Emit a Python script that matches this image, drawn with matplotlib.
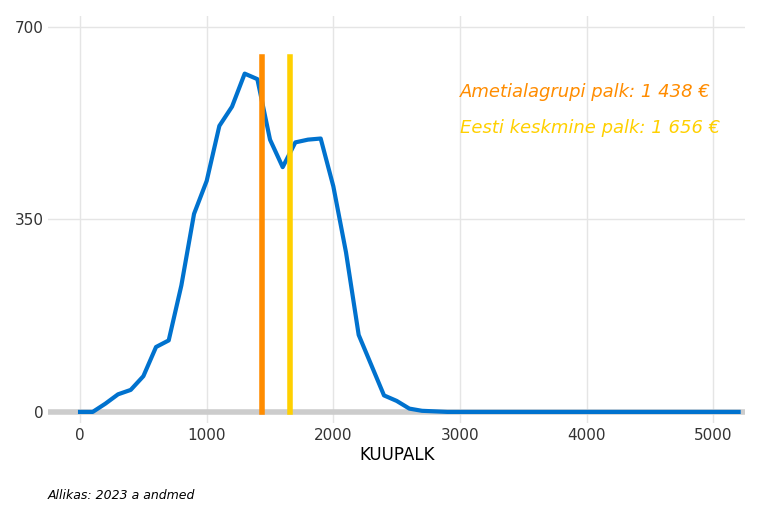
import matplotlib
matplotlib.use("Agg")
import matplotlib.pyplot as plt

x = list(range(0, 5300, 100))
y_head = [0, 0, 15, 32, 40, 65, 118, 130, 230, 360, 420, 520, 555, 615, 605, 495, 445, 490, 495, 497,
          410, 290, 140, 85, 30, 20, 6, 2, 1]
y = y_head + [0] * (len(x) - len(y_head))
group_pay = 1438
mean_pay = 1656
labels = ["Ametialagrupi palk: 1 438 €", "Eesti keskmine palk: 1 656 €"]

fig = plt.figure(figsize=(7.68, 5.12), dpi=100)
ax = fig.add_axes([0.063, 0.174, 0.907, 0.795])
for v in [0, 1000, 2000, 3000, 4000, 5000]:
    ax.axvline(v, color="#e5e5e5", lw=1, zorder=0)
for v in [350, 700]:
    ax.axhline(v, color="#e5e5e5", lw=1, zorder=0)
ax.axhline(0, color="#cccccc", lw=4, zorder=1)
ax.plot(x, y, color="#0072ce", lw=3, zorder=3)
ax.plot([group_pay, group_pay], [0, 645], color="#ff8c00", lw=4, zorder=4)
ax.plot([mean_pay, mean_pay], [0, 645], color="#ffd000", lw=4, zorder=4)
ax.text(3000, 582, labels[0], color="#ff8c00", style="italic", fontsize=13, va="center")
ax.text(3000, 516, labels[1], color="#ffd000", style="italic", fontsize=13, va="center")
ax.set_xlim(-250, 5250)
ax.set_ylim(-20, 720)
ax.set_xticks([0, 1000, 2000, 3000, 4000, 5000])
ax.set_yticks([0, 350, 700])
ax.tick_params(length=0, labelsize=11, colors="#333333")
for s in ax.spines.values():
    s.set_visible(False)
ax.set_xlabel("KUUPALK", fontsize=12, labelpad=2)
fig.text(0.062, 0.025, "Allikas: 2023 a andmed", style="italic", fontsize=9)
fig.savefig("out.png")
